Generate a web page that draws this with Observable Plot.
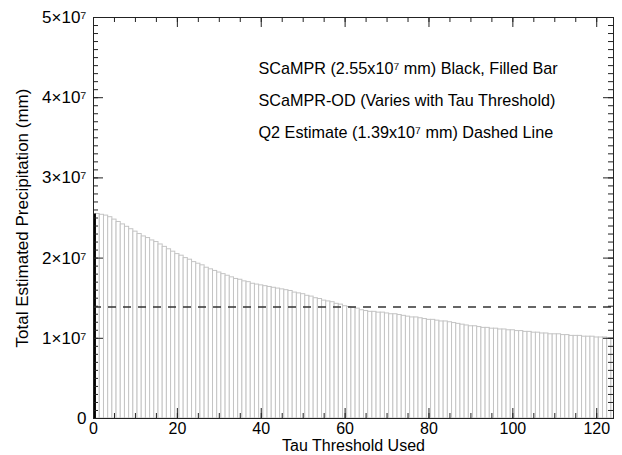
<!DOCTYPE html>
<html><head><meta charset="utf-8">
<script src="https://cdn.jsdelivr.net/npm/d3@7"></script>
<script src="https://cdn.jsdelivr.net/npm/@observablehq/plot@0.6"></script>
<style>body{margin:0;background:#fff;}</style>
</head><body><div id="chart"></div>
<script>
// SCaMPR-OD total precipitation (x1e7 mm) for tau threshold 1..124
const odValues = [
  2.55,2.54,2.53,2.51,2.48,2.45,2.42,2.39,2.36,2.33,
  2.30,2.27,2.25,2.22,2.20,2.17,2.14,2.11,2.08,2.05,
  2.03,2.00,1.98,1.95,1.93,1.91,1.88,1.86,1.84,1.82,
  1.80,1.78,1.76,1.74,1.73,1.71,1.70,1.68,1.67,1.66,
  1.65,1.64,1.63,1.62,1.61,1.60,1.59,1.57,1.56,1.55,
  1.53,1.52,1.50,1.49,1.47,1.46,1.45,1.43,1.42,1.40,
  1.39,1.38,1.37,1.35,1.34,1.33,1.33,1.32,1.32,1.31,
  1.30,1.30,1.29,1.28,1.27,1.26,1.26,1.25,1.24,1.23,
  1.23,1.22,1.21,1.21,1.20,1.19,1.18,1.17,1.16,1.15,
  1.15,1.14,1.13,1.13,1.12,1.12,1.11,1.11,1.10,1.10,
  1.09,1.09,1.08,1.08,1.07,1.07,1.06,1.06,1.05,1.05,
  1.05,1.04,1.04,1.03,1.03,1.03,1.02,1.02,1.02,1.01,
  1.01,1.01,1.00,1.00
];
const scamprTotal = 2.55e7;
const q2Total = 1.39e7;
const xTicks = [0, 20, 40, 60, 80, 100, 120];
const yTicks = [0, 1e7, 2e7, 3e7, 4e7, 5e7];
const yTickLabels = ["0", "1×10⁷", "2×10⁷", "3×10⁷", "4×10⁷", "5×10⁷"];
const xTitle = "Tau Threshold Used";
const yTitle = "Total Estimated Precipitation (mm)";
const annotationLines = [
  "SCaMPR (2.55x10⁷ mm) Black, Filled Bar",
  "SCaMPR-OD (Varies with Tau Threshold)",
  "Q2 Estimate (1.39x10⁷ mm) Dashed Line"
];

const od = odValues.map((v, i) => ({tau: i + 1, value: v * 1e7}));
const xMinor = d3.range(0, 125, 5);
const yMinor = d3.range(0, 5e7 + 1, 1e6);

const W = 622, H = 455, mt = 17, mb = 37, ml = 93, mr = 9;
const ph = H - mt - mb, pw = W - ml - mr;
const axisColor = "#222";

const chart = Plot.plot({
  width: W, height: H,
  marginLeft: ml, marginRight: mr, marginTop: mt, marginBottom: mb,
  style: {fontFamily: "'Liberation Sans', Arial, sans-serif", background: "white", color: "black", overflow: "visible"},
  x: {domain: [0, 124]},
  y: {domain: [0, 5e7]},
  marks: [
    Plot.rectY(od, {x1: d => d.tau - 0.5, x2: d => d.tau + 0.5, y: "value", fill: "white", stroke: "#c4c4c4", strokeWidth: 1, clip: true}),
    Plot.rectY([{tau: 0, value: scamprTotal}], {x1: d => d.tau, x2: d => d.tau + 0.7, y: "value", fill: "black", clip: true}),
    Plot.ruleY([q2Total], {stroke: "#333", strokeWidth: 1.3, strokeDasharray: "8,7"}),
    Plot.frame({stroke: axisColor, strokeWidth: 1}),
    // inward ticks: bottom & top
    Plot.ruleX(xTicks, {insetTop: ph - 10, stroke: axisColor}),
    Plot.ruleX(xTicks, {insetBottom: ph - 10, stroke: axisColor}),
    Plot.ruleX(xMinor, {insetTop: ph - 5, stroke: axisColor}),
    Plot.ruleX(xMinor, {insetBottom: ph - 5, stroke: axisColor}),
    // inward ticks: left & right
    Plot.ruleY(yTicks, {insetRight: pw - 10, stroke: axisColor}),
    Plot.ruleY(yTicks, {insetLeft: pw - 10, stroke: axisColor}),
    Plot.ruleY(yMinor, {insetRight: pw - 5, stroke: axisColor}),
    Plot.ruleY(yMinor, {insetLeft: pw - 5, stroke: axisColor}),
    Plot.axisX({ticks: xTicks, tickSize: 0, tickPadding: 4, fontSize: 16, label: null}),
    Plot.axisY({ticks: yTicks, tickFormat: (d) => yTickLabels[yTicks.indexOf(d)], tickSize: 0, tickPadding: 7, fontSize: 17, label: null}),
    Plot.text([xTitle], {frameAnchor: "bottom", dy: 27, fontSize: 16, lineAnchor: "middle", textAnchor: "middle"}),
    Plot.text([yTitle], {frameAnchor: "left", dx: -71, rotate: -90, fontSize: 17, lineAnchor: "middle", textAnchor: "middle"}),
    Plot.text([annotationLines.join("\n")], {frameAnchor: "top-left", dx: 165, dy: 33, fontSize: 16.2, lineHeight: 2.0, lineAnchor: "top", textAnchor: "start"})
  ]
});
document.getElementById("chart").appendChild(chart);
</script>
</body></html>
